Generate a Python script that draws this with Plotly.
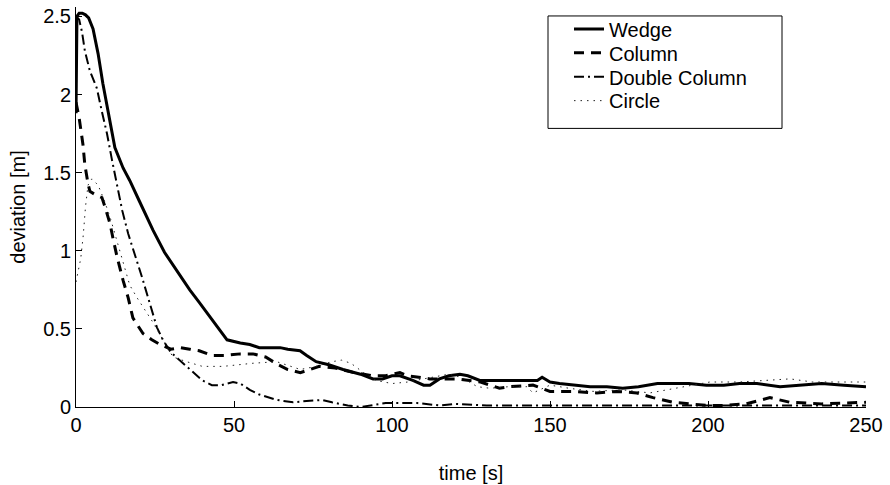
import plotly.graph_objects as go

# ---------------- data ----------------
wedge_t = [0, 0.3, 1, 2, 3, 4, 5.4, 7, 8.5, 10.5, 12.3, 14.9, 17, 20, 24.4, 28, 32, 36, 39,
           41.5, 44.5, 47.8, 52, 55, 58, 61, 64.6, 67, 70.9, 73, 76, 80, 84.5, 90, 94, 97,
           100, 102.5, 106.6, 110, 112, 115, 118, 121.5, 124, 127.8, 132, 140, 146, 147.5,
           150, 153, 158, 162.7, 168, 173, 178, 184, 190, 194, 199.5, 205, 210, 215.5, 222.8,
           229, 236, 243, 250]
wedge_v = [1.88, 2.50, 2.52, 2.52, 2.51, 2.49, 2.42, 2.26, 2.07, 1.84, 1.66, 1.53, 1.45, 1.32,
           1.13, 0.99, 0.87, 0.75, 0.67, 0.60, 0.52, 0.43, 0.41, 0.40, 0.38, 0.38, 0.38, 0.37,
           0.36, 0.33, 0.29, 0.27, 0.24, 0.21, 0.18, 0.18, 0.20, 0.20, 0.17, 0.14, 0.14, 0.18,
           0.20, 0.21, 0.20, 0.17, 0.17, 0.17, 0.17, 0.19, 0.16, 0.15, 0.14, 0.13, 0.13, 0.12,
           0.13, 0.15, 0.15, 0.15, 0.14, 0.14, 0.15, 0.15, 0.13, 0.14, 0.15, 0.14, 0.13]

column_t = [0, 1, 2.2, 2.8, 3.8, 4.4, 6, 8.2, 9.2, 10.8, 11.7, 13, 14.9, 16.5, 18, 21.2, 24,
            26.6, 30, 33, 36, 39, 43, 47, 52, 56, 60, 64, 67, 71, 77, 82, 88, 94, 98, 102.5,
            105, 112, 120.6, 128, 134, 137, 144.6, 150, 157, 164.8, 171, 177.5, 182.6, 189,
            194, 200, 205, 212, 219.6, 226, 236, 246, 250]
column_v = [1.95, 1.85, 1.68, 1.55, 1.43, 1.38, 1.36, 1.34, 1.28, 1.17, 1.08, 0.96, 0.81, 0.70,
            0.57, 0.47, 0.43, 0.40, 0.37, 0.38, 0.37, 0.36, 0.33, 0.33, 0.34, 0.34, 0.32, 0.27,
            0.24, 0.22, 0.26, 0.25, 0.22, 0.20, 0.20, 0.22, 0.20, 0.18, 0.18, 0.16, 0.12, 0.13,
            0.14, 0.10, 0.10, 0.09, 0.10, 0.09, 0.06, 0.03, 0.02, 0.01, 0.01, 0.02, 0.06, 0.03,
            0.02, 0.03, 0.03]

double_t = [0, 1, 1.9, 2.8, 4.4, 6.6, 8.2, 9.8, 11.4, 13.3, 14.6, 16.5, 19.3, 20.9, 23.4, 25.6,
            27.5, 30, 35, 40, 43, 46, 49.7, 52, 55, 58, 63.6, 68.7, 74, 78, 81, 86, 90, 98, 108,
            115, 120, 130, 150, 170, 190, 210, 230, 250]
double_v = [2.50, 2.48, 2.40, 2.28, 2.15, 2.04, 1.89, 1.75, 1.58, 1.40, 1.26, 1.11, 0.94, 0.83,
            0.66, 0.51, 0.43, 0.35, 0.26, 0.17, 0.14, 0.14, 0.16, 0.15, 0.11, 0.08, 0.045, 0.03,
            0.04, 0.045, 0.03, 0.01, 0.0, 0.025, 0.025, 0.01, 0.02, 0.01, 0.01, 0.01, 0.01,
            0.01, 0.01, 0.01]

circle_t = [0, 0.8, 1.5, 2.3, 3, 3.8, 5, 7, 9, 11, 13, 15, 17, 19.3, 22.4, 24.4, 27.5, 30.7, 35,
            40, 46.5, 51, 56, 63.5, 67.7, 71, 76, 81, 84, 87, 91, 95, 100, 105, 110, 118, 122,
            127, 131, 137, 142.7, 144.6, 150, 156, 163.6, 173, 181.6, 187, 193, 200.6, 210,
            218, 226, 233, 241.7, 250]
circle_v = [0.80, 0.88, 0.95, 1.10, 1.28, 1.42, 1.46, 1.42, 1.32, 1.20, 1.06, 0.92, 0.78, 0.70,
            0.60, 0.54, 0.43, 0.32, 0.29, 0.26, 0.26, 0.27, 0.28, 0.29, 0.26, 0.24, 0.26, 0.29,
            0.30, 0.28, 0.22, 0.17, 0.15, 0.16, 0.18, 0.21, 0.19, 0.13, 0.12, 0.13, 0.13, 0.09,
            0.14, 0.12, 0.10, 0.11, 0.09, 0.11, 0.13, 0.16, 0.16, 0.17, 0.18, 0.16, 0.16, 0.16]

series_names = ["Wedge", "Column", "Double Column", "Circle"]
x_ticks = [0, 50, 100, 150, 200, 250]
y_ticks = [0, 0.5, 1, 1.5, 2, 2.5]
y_tick_text = ["0", "0.5", "1", "1.5", "2", "2.5"]

FONT = "Liberation Sans, Arial, Helvetica, sans-serif"
FS = 20

# plot-area pixel frame -> paper coordinates
px0, px1 = 76, 866
py0, py1 = 5, 407
def fx(p):
    return (p - px0) / (px1 - px0)
def fy(p):
    return (py1 - p) / (py1 - py0)

styles = [dict(color="black", width=3, dash="solid"),
          dict(color="black", width=3, dash="10px,7px"),
          dict(color="black", width=2, dash="10px,4px,2px,4px"),
          dict(color="#222222", width=1, dash="1.5px,5px")]
series_t = [wedge_t, column_t, double_t, circle_t]
series_v = [wedge_v, column_v, double_v, circle_v]
legend_ids = ["legend", "legend2", "legend3", "legend4"]
row_centers = [29, 53, 77, 101]
ROW_OFFSET = 21.5  # distance from legend top to text centre

fig = go.Figure()
for name, t, v, st, lg in zip(series_names, series_t, series_v, styles, legend_ids):
    fig.add_trace(go.Scatter(x=t, y=v, mode="lines", name=name, line=st, legend=lg))

fig.add_shape(type="rect", xref="paper", yref="paper",
              x0=fx(548), x1=fx(782), y0=fy(127), y1=fy(14),
              line=dict(color="black", width=1), fillcolor="white", layer="below")

legend_layout = {}
for lg, rc in zip(legend_ids, row_centers):
    legend_layout[lg] = dict(x=fx(569), y=fy(rc - ROW_OFFSET), xanchor="left", yanchor="top",
                             bgcolor="rgba(0,0,0,0)", borderwidth=0,
                             font=dict(family=FONT, size=FS, color="black"),
                             itemwidth=30)

fig.update_layout(
    width=890, height=485,
    margin=dict(l=76, r=24, t=5, b=78),
    paper_bgcolor="white", plot_bgcolor="white",
    font=dict(family=FONT, size=FS, color="black"),
    showlegend=True,
    xaxis=dict(range=[0, 250], tickvals=x_ticks, ticktext=[str(v) for v in x_ticks],
               ticks="inside", ticklen=6, tickcolor="black", tickwidth=1,
               showline=True, linecolor="black", linewidth=1, mirror=False,
               showgrid=False, zeroline=False,
               title=dict(text="time [s]", standoff=30, font=dict(size=FS)),
               tickfont=dict(size=FS)),
    yaxis=dict(range=[0, 2.56], tickvals=y_ticks, ticktext=y_tick_text,
               ticks="inside", ticklen=6, tickcolor="black", tickwidth=1,
               showline=True, linecolor="black", linewidth=1, mirror=False,
               showgrid=False, zeroline=False,
               title=dict(text="deviation [m]", standoff=12, font=dict(size=FS)),
               tickfont=dict(size=FS)),
    **legend_layout,
)

fig.write_html("out.html")
